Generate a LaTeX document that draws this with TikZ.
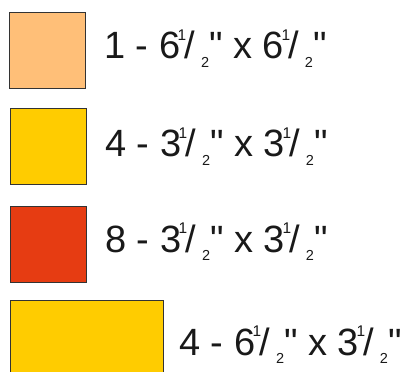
\documentclass[tikz,border=0pt]{standalone}
\usepackage{fontspec}
\setmainfont{Liberation Sans}[Ligatures=TeXOff]
\usepackage{tikz}
\usetikzlibrary{positioning}
\usepackage[dvipsnames, svgnames]{xcolor}

\definecolor{peach}{HTML}{FFBF78}
\definecolor{sunny}{HTML}{FFCC00}
\definecolor{brick}{HTML}{E63C12}

% one half, set as the picture sets it
\newcommand{\halfin}{\kern-2.5pt\raisebox{18.5pt}{\fontsize{15.5}{15}\selectfont 1}\kern-1.7pt/\kern6pt\raisebox{-8.5pt}{\fontsize{14.5}{15}\selectfont 2}}

\begin{document}
\begin{tikzpicture}[x=1pt, y=-1pt,
    tile/.style={draw=black!80, line width=1.4pt, inner sep=0pt, anchor=north west},
    lbl/.style={inner sep=0pt, anchor=base west, font=\fontsize{38}{40}\selectfont, text=black!90}]
    % Frame
    \clip (0,0) rectangle (408,372);
    \useasboundingbox (0,0) rectangle (408,372);

    % Pieces
    \node[tile, fill=peach, minimum width=76pt, minimum height=76pt] (big) at (9,12) {};
    \node[tile, fill=sunny, minimum width=76pt, minimum height=76pt] (small) at (10,108) {};
    \node[tile, fill=brick, minimum width=76pt, minimum height=76pt] (red) at (10,206) {};
    \node[tile, fill=sunny, minimum width=153pt, minimum height=90pt] (strip) at (10,300) {};

    % Counts and sizes
    \node[lbl] (bigtxt) at (104,59) {1 - 6\halfin" x 6\halfin"};
    \node[lbl] (smalltxt) at (105,157) {4 - 3\halfin" x 3\halfin"};
    \node[lbl] (redtxt) at (105,252) {8 - 3\halfin" x 3\halfin"};
    \node[lbl] (striptxt) at (179,355) {4 - 6\halfin" x 3\halfin"};
\end{tikzpicture}
\end{document}
